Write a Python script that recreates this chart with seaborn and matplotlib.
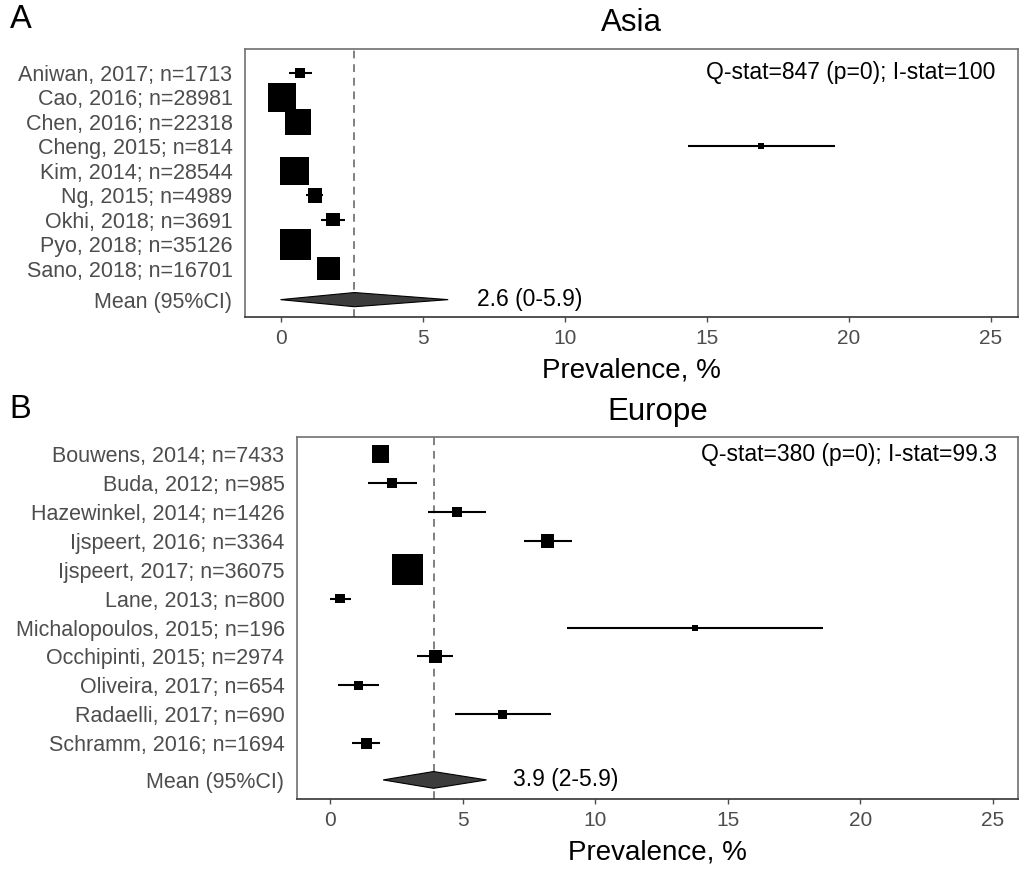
import numpy as np
import pandas as pd
import matplotlib
matplotlib.use('Agg')
import matplotlib.pyplot as plt
import seaborn as sns

# 数据：亚洲
asia_study = ['Aniwan, 2017', 'Cao, 2016', 'Chen, 2016', 'Cheng, 2015', 'Kim, 2014',
              'Ng, 2015', 'Okhi, 2018', 'Pyo, 2018', 'Sano, 2018']
asia_n = [1713, 28981, 22318, 814, 28544, 4989, 3691, 35126, 16701]
asia_prev = [0.69, 0.05, 0.61, 16.9, 0.50, 1.21, 1.85, 0.51, 1.69]
asia_lo = [0.30, 0.02, 0.50, 14.33, 0.42, 0.91, 1.43, 0.45, 1.50]
asia_hi = [1.09, 0.08, 0.72, 19.50, 0.58, 1.50, 2.27, 0.57, 1.90]
asia_mean = [2.6, 0.0, 5.9]
asia_stat = 'Q-stat=847 (p=0); I-stat=100'

# 数据：欧洲
europe_study = ['Bouwens, 2014', 'Buda, 2012', 'Hazewinkel, 2014', 'Ijspeert, 2016',
                'Ijspeert, 2017', 'Lane, 2013', 'Michalopoulos, 2015', 'Occhipinti, 2015',
                'Oliveira, 2017', 'Radaelli, 2017', 'Schramm, 2016']
europe_n = [7433, 985, 1426, 3364, 36075, 800, 196, 2974, 654, 690, 1694]
europe_prev = [1.89, 2.34, 4.78, 8.21, 2.91, 0.37, 13.78, 3.97, 1.06, 6.52, 1.36]
europe_lo = [1.60, 1.41, 3.69, 7.30, 2.75, 0.00, 8.95, 3.28, 0.29, 4.71, 0.82]
europe_hi = [2.20, 3.28, 5.87, 9.12, 3.08, 0.80, 18.60, 4.65, 1.86, 8.35, 1.90]
europe_mean = [3.9, 2.0, 5.9]
europe_stat = 'Q-stat=380 (p=0); I-stat=99.3'

xticks = [0, 5, 10, 15, 20, 25]

sns.set_theme(style='white')
plt.rcParams['font.family'] = ['Liberation Sans', 'DejaVu Sans']

fig = plt.figure(figsize=(10.2, 8.73), dpi=100)
ax_a = fig.add_axes([245 / 1020, 1 - 317 / 873, 773 / 1020, 268 / 873])
ax_b = fig.add_axes([297 / 1020, 1 - 799 / 873, 721 / 1020, 362 / 873])


def forest(ax, study, n, prev, lo, hi, mean, stat, title, ylim, title_pad):
    df = pd.DataFrame({'study': study, 'n': n, 'prev': prev, 'lo': lo, 'hi': hi})
    df['label'] = df['study'] + '; n=' + df['n'].astype(str)
    df['y'] = np.arange(len(df))
    # 方块大小：与 ggplot scale_size 相同（面积随 n 线性变化）
    t = (df['n'] - df['n'].min()) / (df['n'].max() - df['n'].min())
    side_px = 6 + 25 * np.sqrt(t)
    sizes = (side_px * 0.72) ** 2
    mean_y = len(df) - 1 + 1.27

    ax.axvline(mean[0], color='#808080', lw=1.4, ls=(0, (4, 3)), zorder=1)
    ax.hlines(df['y'], df['lo'], df['hi'], color='black', lw=1.5, zorder=2)
    sns.scatterplot(data=df, x='prev', y='y', marker='s', color='black', s=sizes,
                    linewidth=0, legend=False, ax=ax, zorder=3)
    h = 0.29
    ax.fill([mean[1], mean[0], mean[2], mean[0]], [mean_y, mean_y - h, mean_y, mean_y + h],
            facecolor='#3c3c3c', edgecolor='black', lw=0.8, zorder=3)
    ax.text(mean[2] + 1.0, mean_y, f'{mean[0]} ({mean[1]:g}-{mean[2]})', fontsize=16.5,
            ha='left', va='center', color='black')
    ax.text(25.15, 0, stat, fontsize=16.5, ha='right', va='center', color='black')

    ax.set_yticks(list(df['y']) + [mean_y])
    ax.set_yticklabels(list(df['label']) + ['Mean (95%CI)'], fontsize=15.5, color='#4d4d4d')
    ax.set_ylim(*ylim)
    ax.set_xlim(-1.25, 25.95)
    ax.set_xticks(xticks)
    ax.set_xticklabels([str(v) for v in xticks], fontsize=15, color='#4d4d4d')
    ax.tick_params(axis='x', length=3.6, width=1, color='#4d4d4d', pad=5, bottom=True)
    ax.tick_params(axis='y', length=0, pad=9)
    ax.set_xlabel('Prevalence, %', fontsize=20, color='black', labelpad=7)
    ax.set_ylabel('')
    ax.set_title(title, fontsize=22.5, pad=title_pad, color='black')
    for sp in ax.spines.values():
        sp.set_color('#707070')
        sp.set_linewidth(1.2)
    ax.spines['bottom'].set_color('#333333')


forest(ax_a, asia_study, asia_n, asia_prev, asia_lo, asia_hi, asia_mean, asia_stat,
       'Asia', (8 + 1.27 + 0.71, -0.98), 13)
forest(ax_b, europe_study, europe_n, europe_prev, europe_lo, europe_hi, europe_mean, europe_stat,
       'Europe', (10 + 1.27 + 0.66, -0.59), 12.5)

fig.text(10 / 1020, 1 - 20 / 873, 'A', fontsize=23.5, ha='left', va='center', color='black')
fig.text(9 / 1020, 1 - 409 / 873, 'B', fontsize=23.5, ha='left', va='center', color='black')

plt.savefig('out.png', dpi=100)
